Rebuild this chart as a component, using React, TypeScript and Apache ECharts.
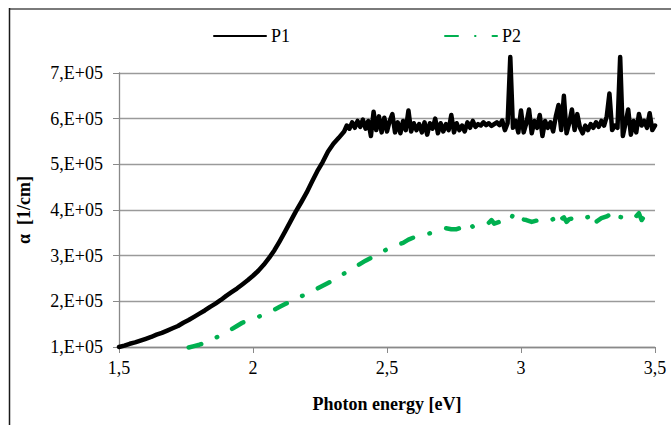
import React, { useEffect, useRef } from "react";
import * as echarts from "echarts";

// Photon energy (eV) and absorption coefficient (units of 1e5 1/cm)
const p1Energy = [
  1.5, 1.52, 1.54, 1.56, 1.58, 1.6, 1.62, 1.64, 1.66, 1.68, 1.7, 1.72, 1.74, 1.76, 1.78, 1.8,
  1.82, 1.84, 1.86, 1.88, 1.9, 1.92, 1.94, 1.96, 1.98, 2.0, 2.02, 2.04, 2.06, 2.08, 2.1, 2.12,
  2.14, 2.16, 2.18, 2.2, 2.22, 2.24, 2.26, 2.28, 2.3, 2.32, 2.34, 2.35,
  2.36, 2.37, 2.38, 2.39, 2.4, 2.41, 2.42, 2.43, 2.44, 2.45, 2.46, 2.47, 2.48, 2.49, 2.5,
  2.51, 2.52, 2.53, 2.54, 2.55, 2.56, 2.57, 2.58, 2.59, 2.6, 2.61, 2.62, 2.63, 2.64, 2.65,
  2.66, 2.67, 2.68, 2.69, 2.7, 2.71, 2.72, 2.73, 2.74, 2.75, 2.76, 2.77, 2.78, 2.79, 2.8,
  2.81, 2.82, 2.83, 2.84, 2.85, 2.86, 2.87, 2.88, 2.89, 2.9, 2.91, 2.92, 2.93, 2.94, 2.95,
  2.96, 2.97, 2.98, 2.99, 3.0, 3.01, 3.02, 3.03, 3.04, 3.05, 3.06, 3.07, 3.08, 3.09, 3.1,
  3.11, 3.12, 3.13, 3.14, 3.15, 3.16, 3.17, 3.18, 3.19, 3.2, 3.21, 3.22, 3.23, 3.24, 3.25,
  3.26, 3.27, 3.28, 3.29, 3.3, 3.31, 3.32, 3.33, 3.34, 3.35, 3.36, 3.37, 3.38, 3.39, 3.4,
  3.41, 3.42, 3.43, 3.44, 3.45, 3.46, 3.47, 3.48, 3.49, 3.5,
];
const p1Alpha = [
  1.0, 1.03, 1.07, 1.1, 1.14, 1.18, 1.22, 1.27, 1.31, 1.36, 1.41, 1.46, 1.53, 1.59, 1.66, 1.73,
  1.8, 1.88, 1.95, 2.03, 2.12, 2.2, 2.28, 2.37, 2.46, 2.56, 2.67, 2.8, 2.95, 3.12, 3.32, 3.53,
  3.75, 3.97, 4.17, 4.38, 4.62, 4.85, 5.05, 5.28, 5.45, 5.58, 5.72, 5.85,
  5.78, 5.92, 5.8, 5.95, 5.82, 5.98, 5.78, 5.95, 5.62, 6.15, 5.75, 6.05, 5.7, 6.02, 5.72,
  5.95, 6.1, 5.7, 5.92, 5.68, 5.95, 5.75, 6.18, 5.72, 5.9, 5.75, 5.88, 5.7, 5.92, 5.65,
  5.9, 5.78, 6.0, 5.68, 5.9, 5.72, 5.88, 5.75, 6.08, 5.7, 5.9, 5.75, 5.85, 5.72, 5.92,
  5.8, 5.95, 5.82, 5.88, 5.85, 5.92, 5.86, 5.9, 5.84, 5.88, 5.92, 5.86, 5.96, 5.75, 5.9,
  7.35, 5.8, 5.95, 5.7, 6.18, 5.7, 5.9, 6.2, 5.68, 5.95, 5.8, 6.08, 5.62, 5.95, 5.8,
  5.92, 5.72, 6.05, 6.3, 5.75, 6.5, 5.68, 5.9, 6.2, 5.75, 6.1, 5.8, 5.68, 5.85, 5.75,
  5.88, 5.8, 5.92, 5.82, 5.95, 5.85, 6.05, 6.55, 5.75, 5.85, 5.8, 7.35, 5.62, 5.9, 6.2,
  5.65, 5.95, 5.7, 6.1, 5.85, 5.95, 5.8, 6.12, 5.75, 5.85,
];

const p2Energy = [
  1.76, 1.78, 1.8, 1.82, 1.84, 1.86, 1.88, 1.9, 1.92, 1.94, 1.96, 1.98, 2.0, 2.02, 2.04, 2.06,
  2.08, 2.1, 2.12, 2.14, 2.16, 2.18, 2.2, 2.22, 2.24, 2.26, 2.28, 2.3, 2.32, 2.34, 2.36, 2.38,
  2.4, 2.42, 2.44, 2.46, 2.48, 2.5, 2.52, 2.54, 2.56, 2.58, 2.6, 2.62, 2.64, 2.66, 2.68, 2.7,
  2.72, 2.74, 2.76, 2.78, 2.8, 2.81, 2.82, 2.84, 2.86, 2.88, 2.89, 2.9, 2.92, 2.94, 2.96, 2.97,
  2.98, 3.0, 3.02, 3.04, 3.06, 3.08, 3.1, 3.12, 3.13, 3.14, 3.16, 3.17, 3.18, 3.2, 3.22, 3.24,
  3.26, 3.27, 3.28, 3.3, 3.32, 3.34, 3.35, 3.36, 3.38, 3.4, 3.42, 3.44, 3.45, 3.46, 3.48, 3.5,
];
const p2Alpha = [
  0.99, 1.02, 1.05, 1.09, 1.14, 1.2, 1.26, 1.32, 1.39, 1.46, 1.53, 1.58, 1.62, 1.66, 1.71, 1.77,
  1.82, 1.88, 1.94, 2.0, 2.06, 2.11, 2.16, 2.22, 2.28, 2.34, 2.4, 2.46, 2.54, 2.61, 2.68, 2.75,
  2.82, 2.89, 2.95, 3.01, 3.08, 3.14, 3.19, 3.24, 3.28, 3.35, 3.4, 3.43, 3.47, 3.49, 3.53, 3.56,
  3.6, 3.58, 3.58, 3.62, 3.66, 3.72, 3.63, 3.68, 3.71, 3.72, 3.78, 3.7, 3.74, 3.78, 3.76, 3.9,
  3.76, 3.8, 3.78, 3.74, 3.77, 3.8, 3.76, 3.8, 3.9, 3.76, 3.84, 3.74, 3.8, 3.82, 3.78, 3.83,
  3.86, 3.93, 3.74, 3.82, 3.86, 3.92, 3.8, 3.85, 3.84, 3.82, 3.8, 3.93, 3.78, 3.86, 3.88, 3.89,
];

const seriesNames = ["P1", "P2"];
const xTicks = [1.5, 2, 2.5, 3, 3.5];
const yTicks = [1e5, 2e5, 3e5, 4e5, 5e5, 6e5, 7e5];

const FONT = "Liberation Serif";

export default function App() {
  const ref = useRef<HTMLDivElement>(null);
  useEffect(() => {
    if (!ref.current) return;
    const chart = echarts.init(ref.current, null, { renderer: "svg" });
    const p1 = p1Energy.map((e, i) => [e, p1Alpha[i] * 1e5]);
    const p2 = p2Energy.map((e, i) => [e, p2Alpha[i] * 1e5]);
    chart.setOption({
      animation: false,
      backgroundColor: "#ffffff",
      textStyle: { fontFamily: FONT, color: "#000" },
      grid: { left: 119, right: 16, top: 73, bottom: 78, containLabel: false },
      legend: {
        left: 208,
        top: 22,
        itemWidth: 52,
        itemHeight: 16,
        itemGap: 154,
        itemStyle: { opacity: 0 },
        textStyle: { fontFamily: FONT, fontSize: 18, color: "#000" },
        data: seriesNames,
      },
      xAxis: {
        type: "value",
        min: xTicks[0],
        max: xTicks[xTicks.length - 1],
        interval: 0.5,
        name: "Photon energy [eV]",
        nameLocation: "middle",
        nameGap: 48,
        nameTextStyle: { fontFamily: FONT, fontSize: 18, fontWeight: "bold", color: "#000" },
        axisLine: { lineStyle: { color: "#898989", width: 1.3 } },
        axisTick: { show: true, inside: false, length: 6, lineStyle: { color: "#898989" } },
        axisLabel: {
          margin: 12,
          fontFamily: FONT,
          fontSize: 18,
          color: "#000",
          formatter: (v: number) => String(v).replace(".", ","),
        },
        splitLine: { show: false },
      },
      yAxis: {
        type: "value",
        min: yTicks[0],
        max: yTicks[yTicks.length - 1],
        interval: 1e5,
        name: "α  [1/cm]",
        nameLocation: "middle",
        nameRotate: 90,
        nameGap: 86,
        nameTextStyle: { fontFamily: FONT, fontSize: 18, fontWeight: "bold", color: "#000" },
        axisLine: { show: true, lineStyle: { color: "#898989", width: 1.3 } },
        axisTick: { show: true, inside: false, length: 6, lineStyle: { color: "#898989" } },
        axisLabel: {
          margin: 16,
          fontFamily: FONT,
          fontSize: 18,
          color: "#000",
          formatter: (v: number) => `${Math.round(v / 1e5)},E+05`,
        },
        splitLine: { show: true, lineStyle: { color: "#9a9a9a", width: 1.3 } },
      },
      graphic: [
        { type: "line", shape: { x1: 9, y1: 9, x2: 671, y2: 9 }, style: { stroke: "#7a7a7a", lineWidth: 2 } },
        { type: "line", shape: { x1: 9.5, y1: 8, x2: 9.5, y2: 425 }, style: { stroke: "#1a1a1a", lineWidth: 1.5 } },
      ],
      series: [
        {
          name: seriesNames[0],
          type: "line",
          data: p1,
          showSymbol: false,
          symbol: "none",
          clip: false,
          color: "#000000",
          lineStyle: { color: "#000000", width: 4.5, join: "round", cap: "round" },
          z: 3,
        },
        {
          name: seriesNames[1],
          type: "line",
          data: p2,
          showSymbol: false,
          symbol: "none",
          clip: false,
          color: "#00b050",
          lineStyle: {
            color: "#00b050",
            width: 4.5,
            type: [13, 17, 0.5, 17],
            cap: "round",
            join: "round",
          },
          z: 2,
        },
      ],
    });
    return () => chart.dispose();
  }, []);
  return (
    <div
      ref={ref}
      style={{ position: "fixed", left: 0, top: 0, width: 671, height: 425, background: "#fff" }}
    />
  );
}
